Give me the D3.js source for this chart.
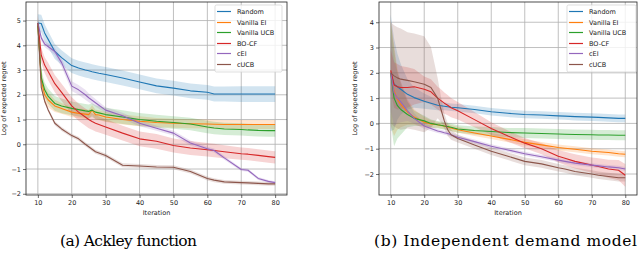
<!DOCTYPE html>
<html>
<head>
<meta charset="utf-8">
<script src="https://cdn.jsdelivr.net/npm/d3@7"></script>
<style>
  body { margin: 0; background: #fff; }
  svg { display: block; font-family: "DejaVu Sans", sans-serif; }
</style>
</head>
<body>
<svg id="chart" width="640" height="255"></svg>
<script>
// iteration grid shared by every series
const iters = [10, 11, 12, 13, 15, 17, 20, 22, 24, 25, 26, 27, 28, 30, 35, 40, 45, 50, 55, 60, 62, 65, 70, 72, 75, 78, 80]

const names = ['Random', 'Vanilla EI', 'Vanilla UCB', 'BO-CF', 'cEI', 'cUCB']
const colors = ['#1f77b4', '#ff7f0e', '#2ca02c', '#d62728', '#9467bd', '#8c564b']

// (a) Ackley function: mean and half band
const ackRandom = [4.9, 4.88, 4.5, 4.25, 3.75, 3.5, 3.18, 3.08, 3.0, 2.97, 2.93, 2.9, 2.87, 2.82, 2.68, 2.52, 2.36, 2.27, 2.16, 2.1, 2.03, 2.03, 2.03, 2.03, 2.03, 2.03, 2.03]
const ackRandomSd = [0.35, 0.35, 0.35, 0.33, 0.3, 0.3, 0.3, 0.3, 0.3, 0.3, 0.3, 0.3, 0.3, 0.3, 0.3, 0.3, 0.3, 0.3, 0.3, 0.3, 0.3, 0.3, 0.32, 0.32, 0.32, 0.32, 0.32]
const ackEI = [4.8, 2.6, 2.0, 1.8, 1.55, 1.45, 1.3, 1.25, 1.22, 1.2, 1.38, 1.2, 1.18, 1.1, 1.0, 0.93, 0.88, 0.85, 0.83, 0.82, 0.81, 0.8, 0.8, 0.8, 0.8, 0.8, 0.8]
const ackEISd = [0.35, 0.35, 0.35, 0.3, 0.25, 0.22, 0.2, 0.2, 0.2, 0.2, 0.2, 0.2, 0.2, 0.2, 0.2, 0.2, 0.18, 0.18, 0.18, 0.18, 0.18, 0.18, 0.18, 0.18, 0.18, 0.18, 0.18]
const ackUCB = [4.8, 2.7, 2.2, 1.95, 1.65, 1.55, 1.45, 1.4, 1.35, 1.33, 1.38, 1.3, 1.27, 1.2, 1.1, 1.0, 0.93, 0.88, 0.82, 0.7, 0.66, 0.62, 0.6, 0.58, 0.56, 0.55, 0.55]
const ackUCBSd = [0.3, 0.3, 0.3, 0.3, 0.3, 0.3, 0.28, 0.28, 0.28, 0.28, 0.28, 0.28, 0.28, 0.28, 0.28, 0.26, 0.26, 0.25, 0.25, 0.25, 0.25, 0.25, 0.25, 0.25, 0.25, 0.25, 0.25]
const ackBOCF = [4.9, 3.6, 3.2, 2.95, 2.45, 2.1, 1.55, 1.3, 1.1, 1.0, 0.92, 0.85, 0.8, 0.7, 0.45, 0.22, 0.12, -0.05, -0.15, -0.22, -0.25, -0.3, -0.38, -0.4, -0.45, -0.5, -0.53]
const ackBOCFSd = [0.3, 0.3, 0.32, 0.35, 0.35, 0.35, 0.35, 0.35, 0.35, 0.35, 0.33, 0.33, 0.32, 0.32, 0.3, 0.3, 0.3, 0.28, 0.28, 0.27, 0.27, 0.26, 0.25, 0.25, 0.25, 0.25, 0.25]
const ackCEI = [4.9, 4.3, 4.05, 3.95, 3.75, 3.3, 2.35, 2.2, 2.0, 1.88, 1.78, 1.68, 1.58, 1.38, 1.15, 0.85, 0.65, 0.45, 0.05, -0.18, -0.25, -0.55, -1.02, -1.05, -1.38, -1.5, -1.55]
const ackCEISd = [0.12, 0.12, 0.12, 0.13, 0.15, 0.18, 0.2, 0.2, 0.2, 0.18, 0.16, 0.15, 0.14, 0.12, 0.12, 0.12, 0.1, 0.1, 0.1, 0.08, 0.08, 0.08, 0.06, 0.06, 0.06, 0.06, 0.06]
const ackCUCB = [4.9, 2.3, 1.75, 1.4, 0.85, 0.62, 0.35, 0.22, 0.0, -0.1, -0.2, -0.3, -0.35, -0.45, -0.85, -0.88, -0.92, -0.93, -1.1, -1.38, -1.45, -1.52, -1.55, -1.56, -1.58, -1.6, -1.6]
const ackCUCBSd = [0.1, 0.1, 0.08, 0.08, 0.08, 0.08, 0.08, 0.08, 0.08, 0.08, 0.08, 0.08, 0.08, 0.08, 0.08, 0.08, 0.08, 0.08, 0.08, 0.08, 0.08, 0.08, 0.08, 0.08, 0.08, 0.08, 0.08]

// (b) Independent demand model
const indRandom = [2.0, 1.55, 1.45, 1.35, 1.15, 1.02, 0.88, 0.8, 0.72, 0.7, 0.68, 0.66, 0.64, 0.62, 0.55, 0.46, 0.4, 0.35, 0.33, 0.3, 0.29, 0.27, 0.25, 0.24, 0.22, 0.2, 0.2]
const indRandomSd = [2.3, 1.8, 1.3, 1.0, 0.6, 0.4, 0.3, 0.25, 0.2, 0.18, 0.16, 0.15, 0.15, 0.15, 0.15, 0.15, 0.15, 0.15, 0.15, 0.15, 0.15, 0.15, 0.15, 0.15, 0.15, 0.15, 0.15]
const indEI = [2.0, 1.3, 0.95, 0.75, 0.45, 0.25, 0.05, -0.02, -0.05, -0.08, -0.1, -0.13, -0.18, -0.25, -0.38, -0.5, -0.62, -0.75, -0.85, -0.95, -0.98, -1.02, -1.1, -1.12, -1.15, -1.2, -1.22]
const indEISd = [2.1, 1.8, 1.2, 0.9, 0.5, 0.3, 0.2, 0.15, 0.12, 0.12, 0.12, 0.12, 0.12, 0.12, 0.12, 0.12, 0.12, 0.12, 0.12, 0.12, 0.12, 0.12, 0.12, 0.12, 0.12, 0.12, 0.12]
const indUCB = [2.0, 1.0, 0.7, 0.55, 0.35, 0.2, 0.1, 0.0, -0.05, -0.07, -0.1, -0.12, -0.15, -0.22, -0.28, -0.32, -0.36, -0.38, -0.4, -0.42, -0.43, -0.44, -0.45, -0.46, -0.46, -0.47, -0.47]
const indUCBSd = [2.0, 1.9, 1.3, 1.0, 0.5, 0.3, 0.2, 0.15, 0.15, 0.15, 0.15, 0.15, 0.15, 0.15, 0.16, 0.18, 0.18, 0.2, 0.2, 0.2, 0.2, 0.2, 0.2, 0.2, 0.2, 0.2, 0.2]
const indBOCF = [2.1, 1.52, 1.45, 1.42, 1.42, 1.45, 1.35, 1.25, 1.0, 0.9, 0.8, 0.72, 0.62, 0.5, 0.15, -0.2, -0.5, -0.78, -1.0, -1.3, -1.38, -1.5, -1.65, -1.7, -1.8, -1.85, -2.05]
const indBOCFSd = [0.8, 0.9, 0.9, 0.85, 0.8, 0.7, 0.5, 0.5, 0.45, 0.45, 0.42, 0.4, 0.38, 0.35, 0.3, 0.25, 0.22, 0.2, 0.22, 0.25, 0.26, 0.28, 0.3, 0.32, 0.36, 0.4, 0.45]
const indCEI = [2.0, 1.2, 1.0, 0.85, 0.5, 0.2, -0.1, -0.2, -0.3, -0.33, -0.37, -0.4, -0.45, -0.55, -0.72, -0.9, -1.05, -1.2, -1.32, -1.45, -1.5, -1.57, -1.65, -1.68, -1.72, -1.75, -1.8]
const indCEISd = [1.5, 1.3, 1.0, 0.8, 0.4, 0.2, 0.12, 0.1, 0.08, 0.08, 0.08, 0.08, 0.08, 0.08, 0.08, 0.08, 0.08, 0.08, 0.08, 0.08, 0.08, 0.08, 0.08, 0.08, 0.08, 0.08, 0.08]
const indCUCB = [2.0, 1.88, 1.8, 1.75, 1.7, 1.65, 1.55, 1.42, 1.0, 0.55, 0.1, -0.25, -0.45, -0.6, -0.85, -1.1, -1.3, -1.5, -1.6, -1.75, -1.8, -1.9, -2.0, -2.05, -2.1, -2.15, -2.15]
const indCUCBSd = [2.0, 2.0, 2.0, 2.0, 1.9, 1.9, 1.9, 1.6, 0.8, 0.5, 0.3, 0.25, 0.2, 0.15, 0.15, 0.15, 0.15, 0.15, 0.15, 0.15, 0.15, 0.15, 0.15, 0.15, 0.15, 0.15, 0.15]

const xTicks = [10, 20, 30, 40, 50, 60, 70, 80]
const ackYTicks = [-2, -1, 0, 1, 2, 3, 4, 5]
const indYTicks = [-2, -1, 0, 1, 2, 3, 4]

const svg = d3.select('#chart')

function panel(cfg) {
	const x = d3.scaleLinear().domain([6.5, 83.5]).range([cfg.left, cfg.right])
	const y = d3.scaleLinear().domain(cfg.yDomain).range([cfg.bottom, cfg.top])
	const g = svg.append('g')

	// grid
	g.append('g').selectAll('line').data(xTicks).join('line')
		.attr('x1', d => x(d)).attr('x2', d => x(d))
		.attr('y1', cfg.top).attr('y2', cfg.bottom)
		.attr('stroke', '#b0b0b0').attr('stroke-width', 0.8)
	g.append('g').selectAll('line').data(cfg.yTicks).join('line')
		.attr('x1', cfg.left).attr('x2', cfg.right)
		.attr('y1', d => y(d)).attr('y2', d => y(d))
		.attr('stroke', '#b0b0b0').attr('stroke-width', 0.8)

	const area = d3.area()
		.x((d, i) => x(iters[i]))
		.y0(d => y(d[0] - d[1]))
		.y1(d => y(d[0] + d[1]))
	const line = d3.line()
		.x((d, i) => x(iters[i]))
		.y(d => y(d))

	const clipId = 'clip' + cfg.left
	svg.append('clipPath').attr('id', clipId).append('rect')
		.attr('x', cfg.left).attr('y', cfg.top)
		.attr('width', cfg.right - cfg.left).attr('height', cfg.bottom - cfg.top)
	const plot = g.append('g').attr('clip-path', 'url(#' + clipId + ')')

	cfg.series.forEach(function(s, k) {
		plot.append('path')
			.attr('d', area(s.mean.map((m, i) => [m, s.sd[i]])))
			.attr('fill', colors[k]).attr('fill-opacity', 0.2)
	})
	cfg.series.forEach(function(s, k) {
		plot.append('path')
			.attr('d', line(s.mean))
			.attr('fill', 'none').attr('stroke', colors[k])
			.attr('stroke-width', 1.1).attr('stroke-linejoin', 'round')
	})

	// axes
	const xAxis = d3.axisBottom(x).tickValues(xTicks).tickSize(3).tickPadding(2)
	const yAxis = d3.axisLeft(y).tickValues(cfg.yTicks).tickSize(3).tickPadding(2)
		.tickFormat(d => d < 0 ? '\u2212' + Math.abs(d) : d)
	g.append('g').attr('transform', 'translate(0,' + cfg.bottom + ')').call(xAxis)
	g.append('g').attr('transform', 'translate(' + cfg.left + ',0)').call(yAxis)
	g.selectAll('.domain').remove()
	g.selectAll('.tick line').attr('stroke', '#333').attr('stroke-width', 0.7)
	g.selectAll('.tick text').attr('font-size', 6.5).attr('fill', '#222')
		.attr('font-family', '"DejaVu Sans", sans-serif')

	g.append('rect')
		.attr('x', cfg.left).attr('y', cfg.top)
		.attr('width', cfg.right - cfg.left).attr('height', cfg.bottom - cfg.top)
		.attr('fill', 'none').attr('stroke', '#222').attr('stroke-width', 0.8)

	g.append('text')
		.attr('x', (cfg.left + cfg.right) / 2).attr('y', 215)
		.attr('text-anchor', 'middle').attr('font-size', 6.5).attr('fill', '#222')
		.text('Iteration')
	g.append('text')
		.attr('transform', 'translate(' + cfg.yLabelX + ',' + ((cfg.top + cfg.bottom) / 2) + ') rotate(-90)')
		.attr('text-anchor', 'middle').attr('font-size', 6.5).attr('fill', '#222')
		.text('Log of expected regret')

	// legend
	const lg = g.append('g')
	lg.append('rect')
		.attr('x', cfg.legendX).attr('y', 5)
		.attr('width', cfg.legendW).attr('height', 67).attr('rx', 1.5)
		.attr('fill', '#fff').attr('fill-opacity', 0.8)
		.attr('stroke', '#d0d0d0').attr('stroke-width', 0.7)
	names.forEach(function(n, k) {
		const yy = Math.round(11 + k * 10.5) + 0.5
		lg.append('line')
			.attr('x1', cfg.legendX + 2).attr('x2', cfg.legendX + 16)
			.attr('y1', yy).attr('y2', yy)
			.attr('stroke', colors[k]).attr('stroke-width', 1.2)
		lg.append('text')
			.attr('x', cfg.legendX + 22).attr('y', yy + 2.3)
			.attr('font-size', 6.5).attr('fill', '#222')
			.text(n)
	})

	svg.append('text')
		.attr('x', cfg.captionX).attr('y', 246)
		.attr('text-anchor', 'middle')
		.style('font-family', '"DejaVu Serif", "Liberation Serif", serif')
		.attr('font-size', 15.5).attr('fill', '#000')
		.attr('textLength', cfg.captionW).attr('lengthAdjust', 'spacing')
		.text(cfg.caption)
}

panel({
	left: 26, right: 287, top: 2, bottom: 195,
	yDomain: [-2.05, 5.75], yTicks: ackYTicks, yLabelX: 6,
	legendX: 215, legendW: 67,
	captionX: 128.5, captionW: 137, caption: '(a) Ackley function',
	series: [
		{ mean: ackRandom, sd: ackRandomSd },
		{ mean: ackEI, sd: ackEISd },
		{ mean: ackUCB, sd: ackUCBSd },
		{ mean: ackBOCF, sd: ackBOCFSd },
		{ mean: ackCEI, sd: ackCEISd },
		{ mean: ackCUCB, sd: ackCUCBSd }
	]
})

panel({
	left: 379, right: 637, top: 2, bottom: 195,
	yDomain: [-2.83, 4.8], yTicks: indYTicks, yLabelX: 357,
	legendX: 567, legendW: 69,
	captionX: 505.5, captionW: 263, caption: '(b) Independent demand model',
	series: [
		{ mean: indRandom, sd: indRandomSd },
		{ mean: indEI, sd: indEISd },
		{ mean: indUCB, sd: indUCBSd },
		{ mean: indBOCF, sd: indBOCFSd },
		{ mean: indCEI, sd: indCEISd },
		{ mean: indCUCB, sd: indCUCBSd }
	]
})
</script>
</body>
</html>
